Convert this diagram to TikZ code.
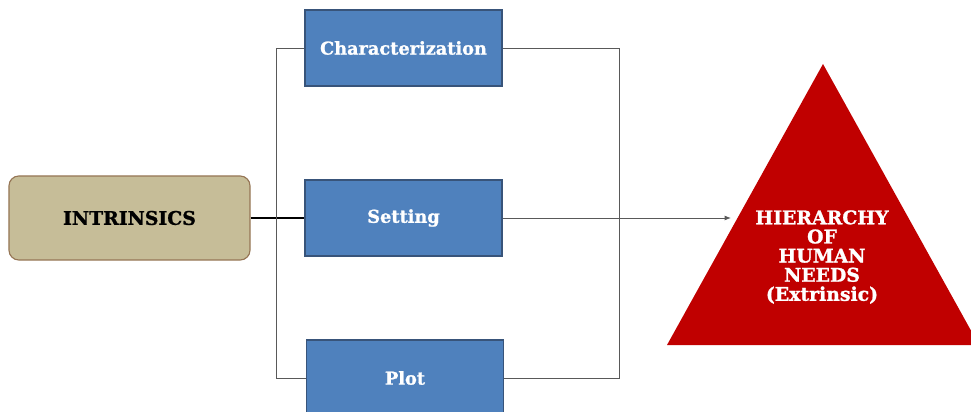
\documentclass[tikz,border=0pt]{standalone}
\usepackage{fontspec}
\setmainfont{DejaVu Serif}[BoldFeatures={FakeBold=1.2}]
\usetikzlibrary{shapes, arrows, arrows.meta}
\usepackage{color}

\definecolor{tanfill}{RGB}{198,189,152}
\definecolor{tanline}{RGB}{150,118,86}
\definecolor{boxblue}{RGB}{79,129,189}
\definecolor{boxline}{RGB}{56,84,122}
\definecolor{needred}{RGB}{192,0,0}

\tikzset{
    stage/.style={draw=boxline, fill=boxblue, line width=0.8pt, text=white,
        minimum width=4.925cm, minimum height=1.9cm, font=\bfseries\fontsize{12.6}{14}\selectfont},
    link/.style={draw=black!65, line width=0.7pt}
}

\begin{document}
\begin{tikzpicture}[x=0.025cm, y=-0.025cm]
            \useasboundingbox (0,0) rectangle (971,412);

            \node[draw=tanline, fill=tanfill, line width=0.8pt, rounded corners=7pt,
                minimum width=6.025cm, minimum height=2.1cm,
                font=\bfseries\fontsize{13.4}{15}\selectfont] (n0) at (129.5, 218) {INTRINSICS};
            \node[stage] (n1) at (403.5, 48) {Characterization};
            \node[stage] (n2) at (403.5, 218) {Setting};
            \node[stage] (n3) at (405, 378) {Plot};

            \fill[needred] (667, 345) -- (823, 64) -- (979, 345) -- cycle;
            \node[text=white, align=center, font=\bfseries\fontsize{13.4}{13.6}\selectfont] (n4) at (822, 257)
                {HIERARCHY\\OF\\HUMAN\\NEEDS\\(Extrinsic)};
            \coordinate (tip) at (731, 218);

            \draw[link, draw=black, line width=1pt] (n0) -- (n2);
            \draw[link] (n1.west) -- ++(-28, 0) |- (n3.west);
            \draw[link] (n1.east) -- ++(117, 0) |- (n3.east);
            \draw[link, -{Latex[length=4.5pt, width=3.5pt]}] (n2) -- (tip);
    	\end{tikzpicture}
\end{document}
